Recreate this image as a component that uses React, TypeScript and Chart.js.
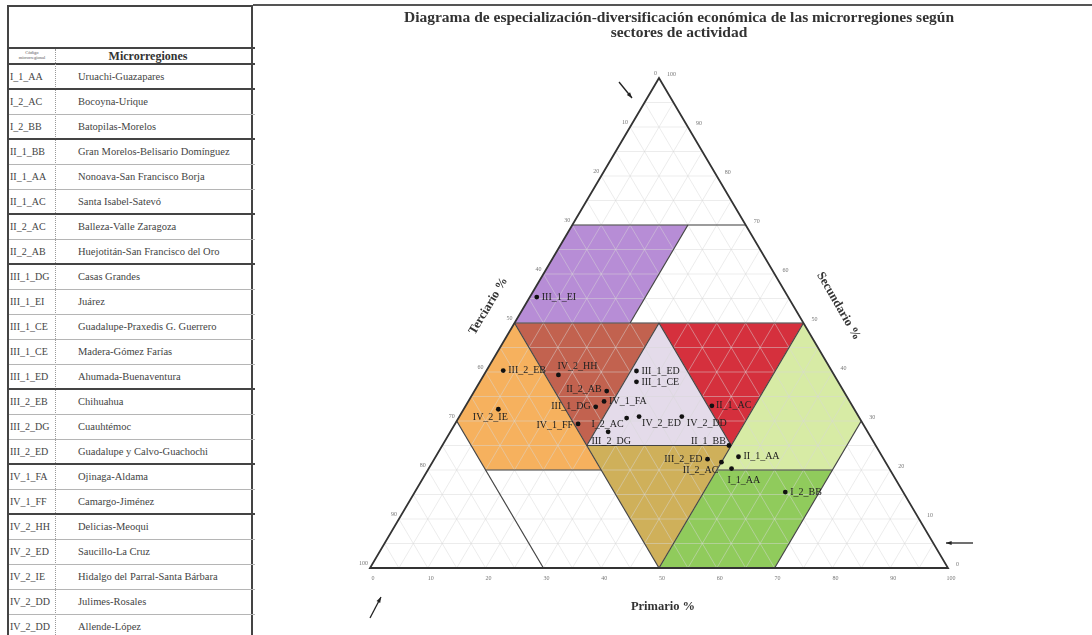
import React, { useEffect, useRef } from 'react';
import { Chart, registerables } from 'chart.js';

Chart.register(...registerables);

// ---------- Table data ----------
const tableCodes = [
  'I_1_AA', 'I_2_AC', 'I_2_BB', 'II_1_BB', 'II_1_AA', 'II_1_AC', 'II_2_AC', 'II_2_AB',
  'III_1_DG', 'III_1_EI', 'III_1_CE', 'III_1_CE', 'III_1_ED', 'III_2_EB', 'III_2_DG', 'III_2_ED',
  'IV_1_FA', 'IV_1_FF', 'IV_2_HH', 'IV_2_ED', 'IV_2_IE', 'IV_2_DD', 'IV_2_DD',
];
const tableNames = [
  'Uruachi-Guazapares', 'Bocoyna-Urique', 'Batopilas-Morelos', 'Gran Morelos-Belisario Domínguez',
  'Nonoava-San Francisco Borja', 'Santa Isabel-Satevó', 'Balleza-Valle Zaragoza',
  'Huejotitán-San Francisco del Oro', 'Casas Grandes', 'Juárez', 'Guadalupe-Praxedis G. Guerrero',
  'Madera-Gómez Farías', 'Ahumada-Buenaventura', 'Chihuahua', 'Cuauhtémoc',
  'Guadalupe y Calvo-Guachochi', 'Ojinaga-Aldama', 'Camargo-Jiménez', 'Delicias-Meoqui',
  'Saucillo-La Cruz', 'Hidalgo del Parral-Santa Bárbara', 'Julimes-Rosales', 'Allende-López',
];
const groupEnds = [0, 2, 5, 7, 12, 15, 17];

// ---------- Chart data (percentages) ----------
const pointLabels = [
  'III_1_EI', 'III_2_EB', 'IV_2_HH', 'II_2_AB', 'III_1_DG', 'IV_1_FA', 'IV_1_FF', 'IV_2_IE',
  'III_1_ED', 'III_1_CE', 'I_2_AC', 'IV_2_ED', 'IV_2_DD', 'III_2_DG', 'II_1_AC', 'II_1_BB',
  'III_2_ED', 'II_1_AA', 'II_2_AC', 'I_1_AA', 'I_2_BB',
];
const primario = [1.2, 2.9, 12.9, 22.9, 22.6, 23.5, 21.3, 6.0, 26.0, 27.1, 29.1, 31.1, 38.5, 27.3, 42.6, 49.6, 47.3, 52.4, 50.0, 52.4, 64.1];
const secundario = [55.3, 40.3, 39.4, 36.1, 32.9, 34.0, 29.4, 32.4, 40.2, 38.0, 30.6, 30.9, 30.9, 27.8, 33.1, 25.0, 22.2, 22.7, 21.6, 20.3, 15.5];
const terciario = [43.5, 56.8, 47.7, 41.0, 44.5, 42.5, 49.3, 61.6, 33.8, 34.9, 40.3, 38.0, 30.6, 44.9, 24.3, 25.4, 30.5, 24.9, 28.4, 27.3, 20.4];

// label placement [dx, dy, align]
const labelPlacement: [number, number, CanvasTextAlign][] = [
  [5, 0, 'left'], [5, 0, 'left'], [-1, -9, 'left'], [-5, -2, 'right'], [-5, 0, 'right'],
  [5, 0, 'left'], [-5, 1, 'right'], [-8, 8, 'center'], [5, 0, 'left'], [5, 1, 'left'],
  [-3, 6, 'right'], [3, 7, 'left'], [5, 7, 'left'], [3, 10, 'center'], [4, 0, 'left'],
  [-3, -4, 'right'], [-5, 0, 'right'], [5, 0, 'left'], [-3, 8, 'right'], [-4, 12, 'left'],
  [5, 0, 'left'],
];

// Tick labels
const bottomTicks = [0, 10, 20, 30, 40, 50, 60, 70, 80, 90, 100];
const leftTicks = [0, 10, 20, 30, 40, 50, 60, 70, 80, 90, 100];
const rightTicks = [0, 10, 20, 30, 40, 50, 60, 70, 80, 90, 100];

// Zones: vertices as [primario, secundario]
const zonePurple = [[0, 70], [20, 70], [20, 50], [0, 50]];
const zoneOrange = [[0, 50], [0, 30], [10, 20], [30, 20]];
const zoneBrown = [[0, 50], [25, 50], [25, 25]];
const zoneLavender = [[25, 50], [50, 25], [25, 25]];
const zoneRed = [[25, 50], [50, 50], [50, 25]];
const zoneLightGreen = [[50, 50], [70, 30], [70, 20], [50, 20]];
const zoneOlive = [[25, 25], [50, 25], [50, 0]];
const zoneGreen = [[50, 20], [70, 20], [70, 0], [50, 0]];

const zones = [
  { pts: zonePurple, color: '#B78DD6' },
  { pts: zoneOrange, color: '#F6B15E' },
  { pts: zoneBrown, color: '#C2624F' },
  { pts: zoneLavender, color: '#E4DBEA' },
  { pts: zoneRed, color: '#D5303D' },
  { pts: zoneLightGreen, color: '#D7EBA5' },
  { pts: zoneOlive, color: '#CFB05A' },
  { pts: zoneGreen, color: '#90CB5C' },
];

// Boundary segments [p1, s1, p2, s2]
const boundaries = [
  [0, 70, 30, 70], [0, 50, 50, 50], [25, 25, 50, 25], [10, 20, 30, 20], [50, 20, 70, 20],
  [20, 70, 20, 50], [25, 50, 25, 25], [50, 50, 50, 0], [70, 30, 70, 0],
  [25, 50, 50, 25], [0, 50, 50, 0], [0, 30, 30, 0],
];

const SERIF = '"Liberation Serif", "DejaVu Serif", serif';

function tpx(chart: any, p: number, s: number): [number, number] {
  const x = chart.scales.x.getPixelForValue(p + s / 2);
  const y = chart.scales.y.getPixelForValue(s);
  return [x, y];
}

const ternaryPlugin = {
  id: 'ternary',
  beforeDatasetsDraw(chart: any) {
    const ctx: CanvasRenderingContext2D = chart.ctx;
    ctx.save();
    // zones
    for (const z of zones) {
      ctx.beginPath();
      z.pts.forEach(([p, s], i) => {
        const [x, y] = tpx(chart, p, s);
        if (i === 0) ctx.moveTo(x, y); else ctx.lineTo(x, y);
      });
      ctx.closePath();
      ctx.fillStyle = z.color;
      ctx.fill();
    }
    // grid every 5
    ctx.strokeStyle = 'rgba(215,215,215,0.6)';
    ctx.lineWidth = 0.8;
    for (let k = 5; k < 100; k += 5) {
      const segs = [
        [0, k, 100 - k, k],
        [k, 0, k, 100 - k],
        [100 - k, 0, 0, 100 - k],
      ];
      for (const [p1, s1, p2, s2] of segs) {
        const [x1, y1] = tpx(chart, p1, s1);
        const [x2, y2] = tpx(chart, p2, s2);
        ctx.beginPath();
        ctx.moveTo(x1, y1);
        ctx.lineTo(x2, y2);
        ctx.stroke();
      }
    }
    // boundaries
    ctx.strokeStyle = '#444';
    ctx.lineWidth = 1.2;
    for (const [p1, s1, p2, s2] of boundaries) {
      const [x1, y1] = tpx(chart, p1, s1);
      const [x2, y2] = tpx(chart, p2, s2);
      ctx.beginPath();
      ctx.moveTo(x1, y1);
      ctx.lineTo(x2, y2);
      ctx.stroke();
    }
    // outline
    const A = tpx(chart, 0, 100);
    const B = tpx(chart, 0, 0);
    const C = tpx(chart, 100, 0);
    ctx.strokeStyle = '#333';
    ctx.lineWidth = 1.8;
    ctx.beginPath();
    ctx.moveTo(A[0], A[1]);
    ctx.lineTo(B[0], B[1]);
    ctx.lineTo(C[0], C[1]);
    ctx.closePath();
    ctx.stroke();

    // tick labels
    ctx.fillStyle = '#777';
    ctx.font = `6px ${SERIF}`;
    ctx.textBaseline = 'middle';
    ctx.textAlign = 'center';
    for (const t of bottomTicks) {
      const [x, y] = tpx(chart, t, 0);
      ctx.fillText(String(t), x + 3, y + 10);
    }
    ctx.textAlign = 'right';
    for (const t of leftTicks) {
      const [x, y] = tpx(chart, 0, 100 - t);
      ctx.fillText(String(t), x - 2, y - 5);
    }
    ctx.textAlign = 'left';
    for (const t of rightTicks) {
      const [x, y] = tpx(chart, 100 - t, t);
      ctx.fillText(String(t), x + 8, y - 4);
    }

    // axis titles
    ctx.fillStyle = '#333';
    ctx.font = `bold 12.5px ${SERIF}`;
    ctx.textAlign = 'center';
    const lm = tpx(chart, 0, 50);
    ctx.save();
    ctx.translate(lm[0] - 26, lm[1] - 17);
    ctx.rotate(-59 * Math.PI / 180);
    ctx.fillText('Terciario %', 0, 0);
    ctx.restore();
    const rm = tpx(chart, 50, 50);
    ctx.save();
    ctx.translate(rm[0] + 35, rm[1] - 17);
    ctx.rotate(60 * Math.PI / 180);
    ctx.fillText('Secundario %', 0, 0);
    ctx.restore();
    const bm = tpx(chart, 50, 0);
    ctx.fillText('Primario %', bm[0] + 4, bm[1] + 39);

    // arrows
    const arrow = (x1: number, y1: number, x2: number, y2: number) => {
      ctx.strokeStyle = '#222';
      ctx.fillStyle = '#222';
      ctx.lineWidth = 1.3;
      ctx.beginPath();
      ctx.moveTo(x1, y1);
      ctx.lineTo(x2, y2);
      ctx.stroke();
      const ang = Math.atan2(y2 - y1, x2 - x1);
      const h = 6;
      ctx.beginPath();
      ctx.moveTo(x2, y2);
      ctx.lineTo(x2 - h * Math.cos(ang - 0.35), y2 - h * Math.sin(ang - 0.35));
      ctx.lineTo(x2 - h * Math.cos(ang + 0.35), y2 - h * Math.sin(ang + 0.35));
      ctx.closePath();
      ctx.fill();
    };
    arrow(A[0] - 40, A[1] + 4, A[0] - 27, A[1] + 20);
    arrow(B[0], B[1] + 50, B[0] + 11, B[1] + 29);
    arrow(C[0] + 25, C[1] - 25, C[0] - 2, C[1] - 25);

    // title
    ctx.fillStyle = '#333';
    ctx.font = `bold 15.5px ${SERIF}`;
    ctx.textAlign = 'center';
    ctx.fillText('Diagrama de especialización-diversificación económica de las microrregiones según', 424, 12);
    ctx.fillText('sectores de actividad', 424, 27);
    ctx.restore();
  },
  afterDatasetsDraw(chart: any) {
    const ctx: CanvasRenderingContext2D = chart.ctx;
    const meta = chart.getDatasetMeta(0);
    ctx.save();
    ctx.fillStyle = '#222';
    ctx.font = `10px ${SERIF}`;
    ctx.textBaseline = 'middle';
    meta.data.forEach((el: any, i: number) => {
      const [dx, dy, align] = labelPlacement[i];
      ctx.textAlign = align;
      ctx.fillText(pointLabels[i], el.x + dx, el.y + dy);
    });
    ctx.restore();
  },
};

export default function App() {
  const ref = useRef<HTMLCanvasElement>(null);
  useEffect(() => {
    const chart = new Chart(ref.current as HTMLCanvasElement, {
      type: 'scatter',
      data: {
        datasets: [
          {
            label: 'Microrregiones',
            data: primario.map((p, i) => ({ x: p + secundario[i] / 2, y: secundario[i], t: terciario[i] })) as any,
            pointRadius: 2.4,
            pointBackgroundColor: '#111',
            pointBorderWidth: 0,
            clip: false as any,
          },
        ],
      },
      options: {
        responsive: false,
        animation: false,
        layout: { padding: { left: 115, right: 144, top: 72, bottom: 67 } },
        scales: {
          x: { type: 'linear', min: 0, max: 100, display: false },
          y: { type: 'linear', min: 0, max: 100, display: false },
        },
        plugins: { legend: { display: false }, tooltip: { enabled: false }, title: { display: false } },
      },
      plugins: [ternaryPlugin],
    });
    return () => chart.destroy();
  }, []);

  const rows = tableCodes.map((code, i) => (
    <div key={i} style={{ position: 'absolute', left: 0, top: 63 + 25 * i, width: 246, height: 25,
      borderBottom: groupEnds.includes(i) ? '2px solid #444' : '1px solid #b5b5b5', boxSizing: 'border-box' }}>
      <div style={{ position: 'absolute', left: 1, top: 0, lineHeight: '24px', fontSize: 10, color: '#444' }}>{code}</div>
      <div style={{ position: 'absolute', left: 69, top: 0, lineHeight: '24px', fontSize: 10.5, color: '#444', whiteSpace: 'nowrap' }}>{tableNames[i]}</div>
    </div>
  ));

  return (
    <div style={{ position: 'absolute', left: 0, top: 0, width: 1092, height: 635, overflow: 'hidden', background: '#fff', fontFamily: SERIF }}>
      <div style={{ position: 'absolute', left: 7, top: 5, width: 246, height: 640, borderLeft: '2px solid #444', borderRight: '2px solid #444', borderTop: '2px solid #444', boxSizing: 'border-box' }}>
        <div style={{ position: 'absolute', left: 0, top: 40, width: 246, height: 2, background: '#444' }} />
        <div style={{ position: 'absolute', left: 0, top: 56, width: 246, height: 2, background: '#444' }} />
        <div style={{ position: 'absolute', left: 46, top: 42, width: 0, height: 600, borderLeft: '1px dotted #999' }} />
        <div style={{ position: 'absolute', left: 0, top: 43, width: 46, fontSize: 4.5, lineHeight: '5px', textAlign: 'center', color: '#555' }}>Código<br />microrregional</div>
        <div style={{ position: 'absolute', left: 46, top: 42, width: 186, lineHeight: '15px', fontSize: 12, fontWeight: 'bold', textAlign: 'center', color: '#333' }}>Microrregiones</div>
        <div style={{ position: 'absolute', left: 0, top: -5 }}>{rows}</div>
      </div>
      <div style={{ position: 'absolute', left: 253, top: 4, width: 839, height: 2, background: '#555' }} />
      <canvas ref={ref} width={837} height={629} style={{ position: 'absolute', left: 255, top: 6 }} />
    </div>
  );
}
